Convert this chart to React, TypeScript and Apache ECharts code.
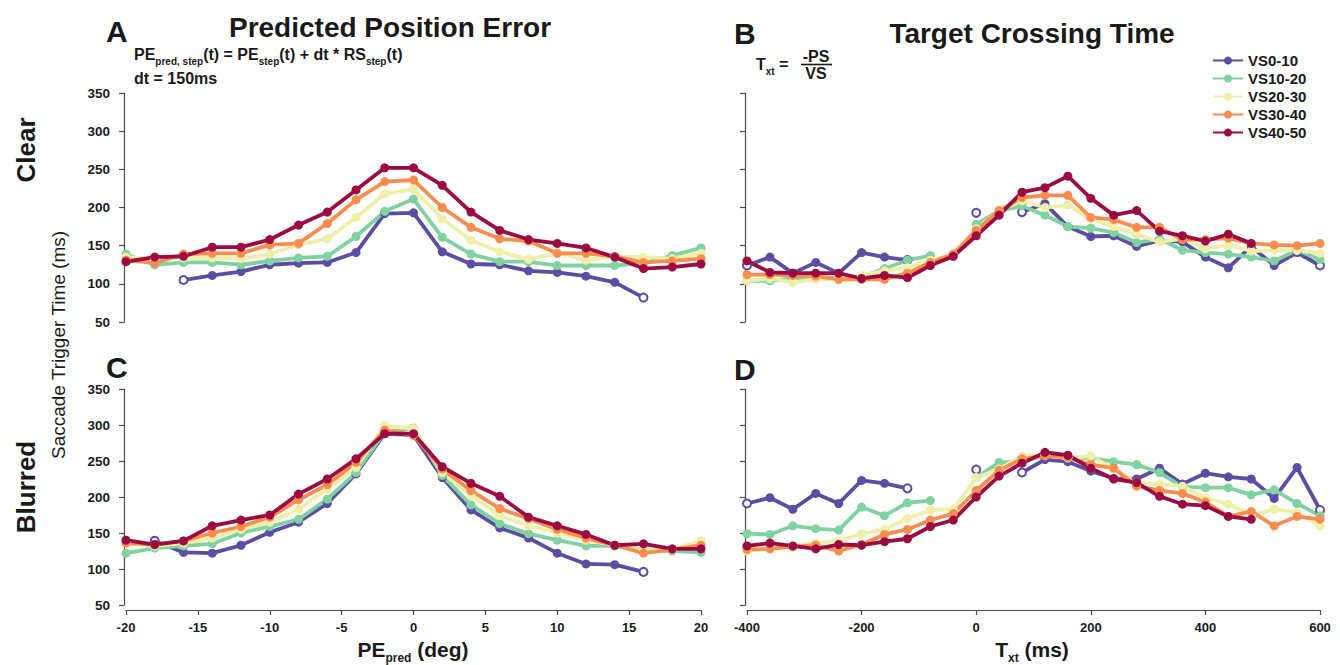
import React, { useEffect, useRef } from "react";
import * as echarts from "echarts";

// ---- x positions ----
const peX = [-20, -18, -16, -14, -12, -10, -8, -6, -4, -2, 0, 2, 4, 6, 8, 10, 12, 14, 16, 18, 20];
const txtX = [-400, -360, -320, -280, -240, -200, -160, -120, -80, -40, 0, 40, 80, 120, 160, 200, 240, 280, 320, 360, 400, 440, 480, 520, 560, 600];

const groupNames = ["VS0-10", "VS10-20", "VS20-30", "VS30-40", "VS40-50"];
const groupColors = ["#5B4DA2", "#80D2A1", "#EFEFA9", "#F98C4F", "#9C0A42"];

// ---- Clear, predicted position error ----
const clearPE_vs0_10 = [null, null, 105, 111, 116, 125, 127, 128, 141, 192, 193, 142, 126, 125, 117, 115, 110, 102, 82, null, null];
const clearPE_vs10_20 = [139, 125, 128, 128, 125, 130, 134, 136, 162, 195, 211, 161, 139, 129, 129, 124, 124, 124, 127, 137, 147];
const clearPE_vs20_30 = [135, 133, 134, 134, 133, 139, 151, 159, 187, 218, 224, 185, 157, 142, 132, 140, 131, 136, 135, 133, 140];
const clearPE_vs30_40 = [131, 127, 139, 140, 140, 151, 153, 179, 210, 234, 236, 200, 174, 159, 156, 140, 140, 136, 128, 130, 133];
const clearPE_vs40_50 = [129, 135, 136, 148, 148, 158, 177, 194, 223, 252, 252, 229, 194, 170, 158, 153, 147, 135, 120, 122, 126];

// ---- Clear, target crossing time ----
const clearTxt_vs0_10 = [124, 135, 114, 128, 114, 141, 135, 131, null, null, 193, null, 194, 205, 175, 162, 163, 149, 157, 155, 135, 121, 149, 124, 141, 124];
const clearTxt_vs10_20 = [104, 104, 107, 108, 106, 109, 120, 131, 137, null, 178, 196, 202, 190, 175, 173, 167, 154, 159, 144, 141, 139, 135, 130, 144, 132];
const clearTxt_vs20_30 = [104, 107, 102, 106, 106, 111, 117, 121, 131, 137, 172, 196, 209, 200, 203, 185, 175, 165, 155, 159, 146, 151, 143, 144, 144, 140];
const clearTxt_vs30_40 = [112, 112, 111, 110, 106, 106, 106, 114, 128, 139, 170, 196, 213, 216, 216, 187, 184, 174, 174, 158, 158, 160, 153, 151, 150, 153];
const clearTxt_vs40_50 = [130, 115, 114, 114, 114, 107, 111, 108, 124, 136, 163, 190, 220, 226, 241, 212, 190, 196, 169, 163, 156, 165, 153, null, null, null];

// ---- Blurred, predicted position error ----
const blurPE_vs0_10 = [null, 139, 123, 122, 133, 151, 165, 191, 232, 288, 286, 227, 182, 157, 143, 122, 107, 106, 96, null, null];
const blurPE_vs10_20 = [122, 129, 132, 135, 150, 159, 169, 197, 234, 290, 296, 230, 189, 163, 149, 140, 132, 132, 127, 125, 123];
const blurPE_vs20_30 = [136, 132, 136, 143, 155, 165, 183, 211, 241, 299, 295, 234, 202, 174, 160, 150, 140, 133, 127, 127, 139];
const blurPE_vs30_40 = [136, 134, 139, 150, 159, 172, 196, 217, 248, 293, 286, 239, 209, 184, 170, 155, 143, 133, 122, 127, 133];
const blurPE_vs40_50 = [140, 134, 139, 160, 168, 175, 204, 225, 253, 288, 288, 242, 219, 201, 172, 160, 148, 133, 135, 128, 128];

// ---- Blurred, target crossing time ----
const blurTxt_vs0_10 = [191, 199, 183, 205, 191, 223, 219, 212, null, null, 238, null, 234, 252, 249, 236, 226, 225, 240, 218, 233, 228, 225, 198, 241, 182];
const blurTxt_vs10_20 = [149, 148, 160, 156, 154, 186, 174, 192, 195, null, 227, 248, 249, 258, 255, 254, 249, 245, 234, 214, 213, 213, 203, 210, 191, 174];
const blurTxt_vs20_30 = [125, 129, 132, 136, 139, 149, 155, 170, 182, 183, 227, 239, 257, 258, 254, 257, 239, 220, 218, 215, 199, 190, 175, 183, 178, 160];
const blurTxt_vs30_40 = [127, 128, 131, 133, 125, 134, 148, 155, 168, 177, 209, 237, 253, 257, 255, 245, 240, 215, 209, 205, 193, 173, 180, 160, 173, 169];
const blurTxt_vs40_50 = [132, 136, 132, 128, 134, 133, 138, 142, 159, 168, 200, 229, 247, 262, 258, 240, 225, 220, 201, 190, 188, 173, 169, null, null, null];

const yTicks = { min: 50, max: 350, interval: 50 };

const FONT = "'Liberation Sans', Arial, Helvetica, sans-serif";
const AXIS_COLOR = "#4a4a4a";
const TEXT_COLOR = "#1a1a1a";

type Num = number | null;

function buildSeries(name: string, color: string, xs: number[], ys: Num[], idx: number, hollowEnds: boolean) {
  const data = xs.map((x, i) => {
    const y = ys[i];
    if (y == null) return [x, "-"];
    const prevMissing = i === 0 || ys[i - 1] == null;
    const nextMissing = i === ys.length - 1 || ys[i + 1] == null;
    if (hollowEnds && (prevMissing || nextMissing)) {
      return { value: [x, y], symbol: "emptyCircle", symbolSize: 8, itemStyle: { borderWidth: 2.8 } };
    }
    return [x, y];
  });
  return {
    name,
    type: "line",
    xAxisIndex: idx,
    yAxisIndex: idx,
    data,
    symbol: "circle",
    symbolSize: 9,
    connectNulls: false,
    lineStyle: { width: 3.8, color },
    itemStyle: { color },
    emphasis: { disabled: true },
    z: 2,
  };
}

const panels = [
  { idx: 0, xs: peX, sets: [clearPE_vs0_10, clearPE_vs10_20, clearPE_vs20_30, clearPE_vs30_40, clearPE_vs40_50] },
  { idx: 1, xs: txtX, sets: [clearTxt_vs0_10, clearTxt_vs10_20, clearTxt_vs20_30, clearTxt_vs30_40, clearTxt_vs40_50] },
  { idx: 2, xs: peX, sets: [blurPE_vs0_10, blurPE_vs10_20, blurPE_vs20_30, blurPE_vs30_40, blurPE_vs40_50] },
  { idx: 3, xs: txtX, sets: [blurTxt_vs0_10, blurTxt_vs10_20, blurTxt_vs20_30, blurTxt_vs30_40, blurTxt_vs40_50] },
];

function xAxisFor(idx: number, isPE: boolean, bottom: boolean) {
  return {
    type: "value",
    gridIndex: idx,
    min: isPE ? -20 : -400,
    max: isPE ? 20 : 600,
    interval: isPE ? 5 : 200,
    offset: 5,
    splitLine: { show: false },
    axisLine: { show: bottom, onZero: false, lineStyle: { color: AXIS_COLOR, width: 1.2 } },
    axisTick: { show: bottom, length: 5, lineStyle: { color: AXIS_COLOR, width: 1.2 } },
    axisLabel: {
      show: bottom,
      fontFamily: FONT,
      fontSize: 13,
      fontWeight: "bold",
      color: TEXT_COLOR,
      margin: 11,
    },
  };
}

function yAxisFor(idx: number, labels: boolean) {
  return {
    type: "value",
    gridIndex: idx,
    ...yTicks,
    offset: 2,
    splitLine: { show: false },
    axisLine: { show: true, onZero: false, lineStyle: { color: AXIS_COLOR, width: 1.2 } },
    axisTick: { show: true, length: 5, lineStyle: { color: AXIS_COLOR, width: 1.2 } },
    axisLabel: {
      show: labels,
      fontFamily: FONT,
      fontSize: 13.5,
      fontWeight: "bold",
      color: TEXT_COLOR,
      margin: 14,
    },
  };
}

function txt(x: number, y: number, text: string, size: number, opts: any = {}) {
  return {
    type: "text",
    x,
    y,
    rotation: opts.rotation || 0,
    style: {
      text,
      fontFamily: FONT,
      fontSize: size,
      fontWeight: opts.weight || "bold",
      fill: TEXT_COLOR,
      align: opts.align || "left",
      verticalAlign: "middle",
      rich: opts.rich,
    },
  };
}

function richText(main: number, sub: number) {
  return {
    m: { fontFamily: FONT, fontSize: main, fontWeight: "bold", color: TEXT_COLOR, lineHeight: main + 8, verticalAlign: "middle" },
    s: { fontFamily: FONT, fontSize: sub, fontWeight: "bold", color: TEXT_COLOR, lineHeight: main + 8, verticalAlign: "bottom" },
  };
}

export default function App() {
  const ref = useRef<HTMLDivElement>(null);

  useEffect(() => {
    if (!ref.current) return;
    const chart = echarts.init(ref.current, null, { renderer: "svg" });

    const series: any[] = [];
    panels.forEach((p) => {
      p.sets.forEach((ys, g) => {
        series.push(buildSeries(groupNames[g], groupColors[g], p.xs, ys, p.idx, g === 0));
      });
    });

    const option = {
      animation: false,
      backgroundColor: "#ffffff",
      grid: [
        { left: 126, top: 93, width: 575, height: 229 },
        { left: 747, top: 93, width: 573, height: 229 },
        { left: 126, top: 389, width: 575, height: 216 },
        { left: 747, top: 389, width: 573, height: 216 },
      ],
      xAxis: [xAxisFor(0, true, false), xAxisFor(1, false, false), xAxisFor(2, true, true), xAxisFor(3, false, true)],
      yAxis: [yAxisFor(0, true), yAxisFor(1, false), yAxisFor(2, true), yAxisFor(3, false)],
      legend: {
        data: groupNames,
        orient: "vertical",
        left: 1207,
        top: 48,
        itemWidth: 30,
        itemHeight: 10,
        itemGap: 3,
        textStyle: { fontFamily: FONT, fontSize: 15, fontWeight: "bold", color: TEXT_COLOR },
        selectedMode: false,
      },
      series,
      graphic: [
        // panel titles
        txt(390, 27, "Predicted Position Error", 28, { align: "center" }),
        txt(1032, 33, "Target Crossing Time", 28, { align: "center" }),
        // panel letters
        txt(106, 31, "A", 30),
        txt(734, 33, "B", 30),
        txt(106, 367, "C", 30),
        txt(734, 369, "D", 30),
        // row labels and shared y title
        txt(26, 150, "Clear", 26, { align: "center", rotation: Math.PI / 2 }),
        txt(26, 487, "Blurred", 26, { align: "center", rotation: Math.PI / 2 }),
        txt(58, 345, "Saccade Trigger Time (ms)", 19, { align: "center", rotation: Math.PI / 2, weight: "normal" }),
        // formulas
        txt(134, 54, "{m|PE}{s|pred, step}{m|(t) = PE}{s|step}{m|(t) + dt * RS}{s|step}{m|(t)}", 16, { rich: richText(16, 10) }),
        txt(134, 78, "dt = 150ms", 16),
        txt(756, 64, "{m|T}{s|xt}{m| =}", 16, { rich: richText(16, 10) }),
        txt(816, 56, "-PS", 16, { align: "center" }),
        {
          type: "line",
          shape: { x1: 801, y1: 64.5, x2: 832, y2: 64.5 },
          style: { stroke: TEXT_COLOR, lineWidth: 1.6 },
        },
        txt(816, 73, "VS", 16, { align: "center" }),
        // x axis titles
        txt(413, 649, "{m|PE}{s|pred}{m| (deg)}", 21, { align: "center", rich: richText(21, 12) }),
        txt(1032, 649, "{m|T}{s|xt}{m| (ms)}", 21, { align: "center", rich: richText(21, 12) }),
      ],
    };

    chart.setOption(option as any);
    return () => chart.dispose();
  }, []);

  return (
    <div
      ref={ref}
      style={{ position: "fixed", left: 0, top: 0, width: 1340, height: 665, background: "#fff" }}
    />
  );
}
